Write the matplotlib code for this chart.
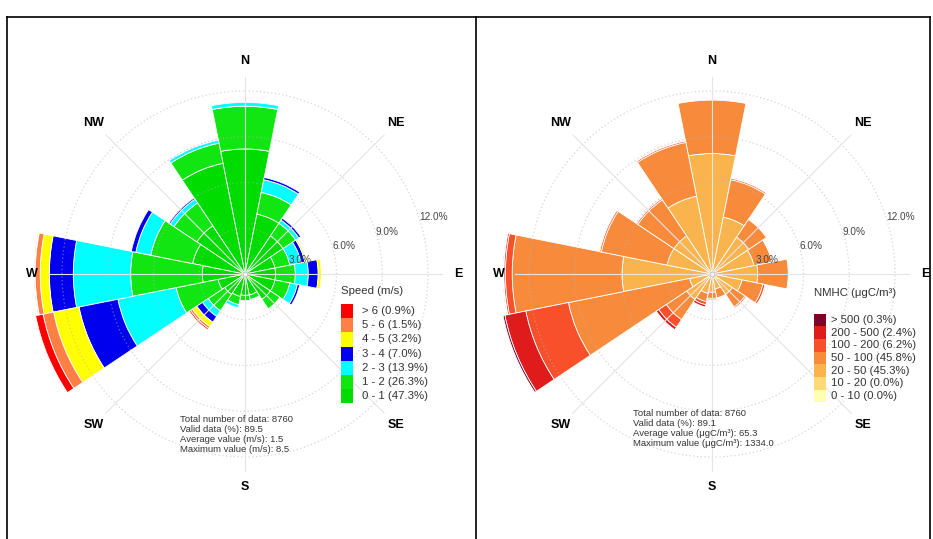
import numpy as np
import matplotlib
matplotlib.use('Agg')
import matplotlib.pyplot as plt
from matplotlib.patches import Rectangle
from matplotlib.lines import Line2D

plt.rcParams['font.family'] = ['Liberation Sans', 'DejaVu Sans']

# 16 compass sectors, clockwise from north
directions = ['N', 'NNE', 'NE', 'ENE', 'E', 'ESE', 'SE', 'SSE',
              'S', 'SSW', 'SW', 'WSW', 'W', 'WNW', 'NW', 'NNW']

# wind speed frequency (%) per sector, one list per speed class
ws_0_1 = [8.2, 4.0, 3.0, 2.0, 2.0, 2.0, 2.0, 1.4, 1.4, 1.5, 1.6, 1.8, 2.8, 3.5, 3.8, 7.4]
ws_1_2 = [2.8, 1.45, 1.0, 1.0, 1.3, 1.0, 0.75, 0.3, 0.35, 0.55, 1.3, 2.8, 4.7, 2.8, 1.8, 1.35]
ws_2_3 = [0.25, 0.85, 0.25, 0.75, 0.85, 0.5, 0.05, 0.0, 0.0, 0.2, 0.45, 3.9, 3.76, 1.0, 0.3, 0.2]
ws_3_4 = [0.0, 0.15, 0.15, 0.25, 0.65, 0.15, 0.0, 0.0, 0.0, 0.0, 0.45, 2.6, 1.57, 0.3, 0.1, 0.05]
ws_4_5 = [0.0, 0.0, 0.0, 0.1, 0.2, 0.0, 0.0, 0.0, 0.0, 0.0, 0.35, 1.7, 0.6, 0.0, 0.0, 0.0]
ws_5_6 = [0.0, 0.0, 0.0, 0.0, 0.0, 0.0, 0.0, 0.0, 0.0, 0.0, 0.15, 0.7, 0.33, 0.0, 0.0, 0.0]
ws_6p = [0.0, 0.0, 0.0, 0.0, 0.0, 0.0, 0.0, 0.0, 0.0, 0.0, 0.1, 0.5, 0.05, 0.0, 0.0, 0.0]
speed_labels = ['0 - 1 (47.3%)', '1 - 2 (26.3%)', '2 - 3 (13.9%)', '3 - 4 (7.0%)',
                '4 - 5 (3.2%)', '5 - 6 (1.5%)', '> 6 (0.9%)']
speed_colors = ['#00dc00', '#12e612', '#00ffff', '#0000ee', '#ffff00', '#ff7f45', '#ff0000']

# NMHC concentration frequency (%) per sector
nm_0_10 = [0.0] * 16
nm_10_20 = [0.0] * 16
nm_20_50 = [7.9, 3.8, 2.9, 2.8, 3.0, 2.0, 1.6, 1.0, 1.2, 1.3, 2.0, 1.5, 5.9, 3.0, 3.0, 5.2]
nm_50_100 = [3.5, 2.5, 1.4, 1.2, 2.0, 1.4, 1.0, 0.6, 0.4, 0.55, 1.6, 8.1, 7.2, 4.4, 2.85, 3.6]
nm_100_200 = [0.0, 0.1, 0.05, 0.05, 0.0, 0.15, 0.1, 0.05, 0.1, 0.2, 0.6, 2.85, 0.45, 0.1, 0.1, 0.1]
nm_200_500 = [0.0, 0.05, 0.05, 0.0, 0.0, 0.05, 0.05, 0.05, 0.05, 0.15, 0.2, 1.4, 0.1, 0.0, 0.05, 0.05]
nm_500p = [0.0, 0.0, 0.0, 0.0, 0.0, 0.0, 0.0, 0.0, 0.0, 0.0, 0.05, 0.12, 0.05, 0.0, 0.05, 0.0]
nmhc_labels = ['0 - 10 (0.0%)', '10 - 20 (0.0%)', '20 - 50 (45.3%)', '50 - 100 (45.8%)',
               '100 - 200 (6.2%)', '200 - 500 (2.4%)', '> 500 (0.3%)']
nmhc_colors = ['#ffffb2', '#fed976', '#fab44e', '#f78b3b', '#f7502a', '#e01b1c', '#800026']

ring_values = [3.0, 6.0, 9.0, 12.0]
compass_labels = ['N', 'NE', 'E', 'SE', 'S', 'SW', 'W', 'NW']

speed_stats = ['Total number of data: 8760', 'Valid data (%): 89.5',
               'Average value (m/s): 1.5', 'Maximum value (m/s): 8.5']
nmhc_stats = ['Total number of data: 8760', 'Valid data (%): 89.1',
              'Average value (\u03bcgC/m\u00b3): 65.3', 'Maximum value (\u03bcgC/m\u00b3): 1334.0']

W, H = 933, 539
PX_PER_PCT = 15.25
R_PX = 222


def fx(x):
    return x / W


def fy(y):
    return 1 - y / H


def rose(fig, cx, cy, classes, colors):
    rmax = R_PX / PX_PER_PCT
    ax = fig.add_axes([fx(cx - R_PX), fy(cy + R_PX), 2 * R_PX / W, 2 * R_PX / H],
                      projection='polar')
    ax.set_theta_zero_location('N')
    ax.set_theta_direction(-1)
    ax.set_ylim(0, rmax)
    ax.set_axis_off()

    theta = np.deg2rad(np.arange(16) * 22.5)
    width = 2 * np.pi / 16
    bottom = np.zeros(16)
    for vals, col in zip(classes, colors):
        vals = np.asarray(vals, dtype=float)
        m = vals > 0
        if m.any():
            ax.bar(theta[m], vals[m], width=width, bottom=bottom[m], color=col,
                   edgecolor='white', linewidth=0.6, zorder=2)
        bottom += vals

    # grid drawn over the bars, kept faint
    t = np.linspace(0, 2 * np.pi, 400)
    for r in ring_values:
        ax.plot(t, np.full_like(t, r), color='#b4b4b4', lw=0.9, alpha=0.55,
                ls=(0, (1, 2)), zorder=4)
        ax.text(np.deg2rad(72), r, f'{r:.1f}%', ha='left', va='center',
                fontsize=7.2, color='#444444', zorder=6)
    for k in range(8):
        a = np.deg2rad(k * 45)
        ax.plot([a, a], [0, 12.9], color='#e4e4e4', lw=0.8, zorder=4)
        ax.text(a, 14.0, compass_labels[k], ha='center', va='center',
                fontsize=9, fontweight='bold', clip_on=False)
    ax.plot([0], [0], 'o', ms=3.5, mfc='#f4f4f4', mec='#c0c0c0', mew=0.6, zorder=5)
    return ax


def legend(fig, x, y_title, y_top, pitch, title, labels, colors, gap):
    fig.text(fx(x), fy(y_title), title, ha='left', va='center',
             fontsize=8.2, color='#333333')
    n = len(labels)
    for i in range(n):
        j = n - 1 - i
        y0 = y_top + i * pitch
        fig.add_artist(Rectangle((fx(x), fy(y0 + pitch)), 12 / W, pitch / H,
                                 transform=fig.transFigure, facecolor=colors[j],
                                 edgecolor='none'))
        fig.text(fx(x + 12 + gap), fy(y0 + pitch / 2), labels[j], ha='left',
                 va='center', fontsize=8.2, color='#333333')


fig = plt.figure(figsize=(W / 100, H / 100), dpi=100)

rose(fig, 245, 274, [ws_0_1, ws_1_2, ws_2_3, ws_3_4, ws_4_5, ws_5_6, ws_6p], speed_colors)
rose(fig, 712, 274, [nm_0_10, nm_10_20, nm_20_50, nm_50_100, nm_100_200, nm_200_500, nm_500p],
     nmhc_colors)

legend(fig, 341, 291, 304, 14.2, 'Speed (m/s)', speed_labels, speed_colors, 9)
legend(fig, 814, 293, 313.5, 12.7, 'NMHC (\u03bcgC/m\u00b3)', nmhc_labels, nmhc_colors, 5)

fig.text(fx(180), fy(415), '\n'.join(speed_stats), ha='left', va='top',
         fontsize=6.8, color='#333333', linespacing=1.12)
fig.text(fx(633), fy(409), '\n'.join(nmhc_stats), ha='left', va='top',
         fontsize=6.8, color='#333333', linespacing=1.12)

# panel frame
for xs, ys in [([7, 930], [17, 17]), ([7, 7], [17, 539]), ([476, 476], [17, 539]),
               ([930, 930], [17, 539])]:
    fig.add_artist(Line2D([fx(v) for v in xs], [fy(v) for v in ys],
                          transform=fig.transFigure, color='black', lw=1.2))

fig.savefig('out.png', dpi=100)
